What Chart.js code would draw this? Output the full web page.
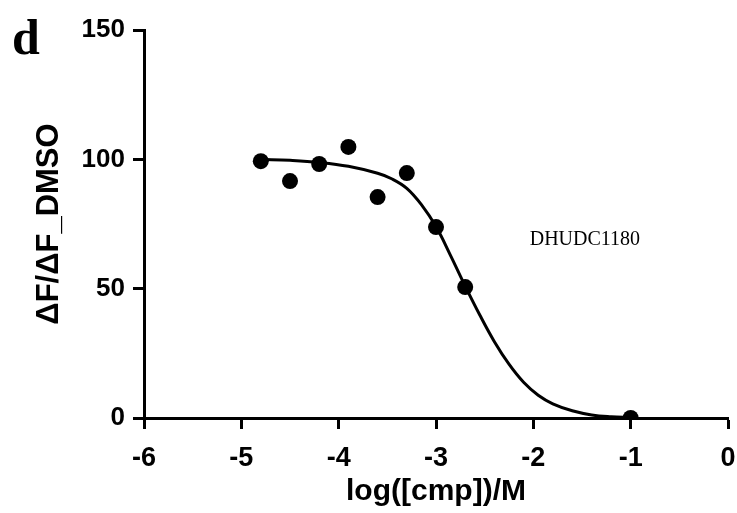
<!DOCTYPE html>
<html><head><meta charset="utf-8">
<script src="https://cdn.jsdelivr.net/npm/chart.js@4.4.1/dist/chart.umd.min.js"></script>
<style>html,body{margin:0;padding:0;background:#fff;}#wrap{width:737px;height:513px;}</style>
</head><body><div id="wrap"><canvas id="c" width="737" height="513"></canvas></div>
<script>
const pointX = [-4.8, -4.5, -4.2, -3.9, -3.6, -3.3, -3.0, -2.7, -1.0];
const pointY = [99.3, 91.6, 98.2, 104.8, 85.4, 94.7, 73.8, 50.6, 0];
const curveX = [-4.8, -4.5, -4.2, -3.9, -3.6, -3.45, -3.3, -3.15, -3.0, -2.85, -2.7, -2.55, -2.4, -2.25, -2.1, -1.95, -1.8, -1.6, -1.4, -1.2, -1.0];
const curveY = [100, 99.6, 98.8, 97.3, 94.6, 92.4, 88.8, 82.5, 74, 62.8, 51, 39.8, 29.5, 20.8, 13.8, 8.8, 5.5, 2.8, 1.2, 0.5, 0.2];
const xTicks = [-6, -5, -4, -3, -2, -1, 0];
const yTicks = [0, 50, 100, 150];
const panelLabel = 'd';
const seriesLabel = 'DHUDC1180';
const xTitle = 'log([cmp])/M';
const yTitle = 'ΔF/ΔF_DMSO';

const textPlugin = {
  id: 'texts',
  afterDraw(chart) {
    const ctx = chart.ctx;
    ctx.save();
    ctx.fillStyle = '#000';
    ctx.font = 'bold 50px "Liberation Serif"';
    ctx.textAlign = 'left';
    ctx.textBaseline = 'alphabetic';
    ctx.fillText(panelLabel, 12, 54);
    ctx.font = '20px "Liberation Serif"';
    const xs = chart.scales.x, ys = chart.scales.y;
    ctx.textAlign = 'center';
    ctx.textBaseline = 'middle';
    ctx.fillText(seriesLabel, xs.getPixelForValue(-1.47), ys.getPixelForValue(68.8));
    ctx.restore();
  }
};

new Chart(document.getElementById('c'), {
  type: 'scatter',
  data: {
    datasets: [
      {
        data: curveX.map((x, i) => ({x, y: curveY[i]})),
        showLine: true, borderColor: '#000', borderWidth: 3, pointRadius: 0,
        tension: 0.4, fill: false
      },
      {
        data: pointX.map((x, i) => ({x, y: pointY[i]})),
        showLine: false, pointRadius: 8, pointBackgroundColor: '#000', pointBorderColor: '#000', pointBorderWidth: 0
      }
    ]
  },
  options: {
    responsive: false, animation: false,
    layout: {padding: {left: 0, right: 9, top: 30, bottom: 0}},
    plugins: {legend: {display: false}, tooltip: {enabled: false}},
    scales: {
      x: {
        type: 'linear', min: -6, max: 0,
        afterBuildTicks: (s) => { s.ticks = xTicks.map(v => ({value: v})); },
        afterFit: (s) => { s.height = 95; s.paddingLeft = 0; s.paddingRight = 0; },
        grid: {drawOnChartArea: false, drawTicks: true, tickLength: 11, tickWidth: 3, tickColor: '#000'},
        border: {display: true, color: '#000', width: 3},
        ticks: {color: '#000', font: {family: '"Liberation Sans"', weight: 'bold', size: 27}, padding: 13, maxRotation: 0},
        title: {display: true, text: xTitle, color: '#000', font: {family: '"Liberation Sans"', weight: 'bold', size: 30}, padding: {top: 0, bottom: 3}}
      },
      y: {
        type: 'linear', min: 0, max: 150,
        afterBuildTicks: (s) => { s.ticks = yTicks.map(v => ({value: v})); },
        afterFit: (s) => { s.width = 144; s.paddingTop = 0; s.paddingBottom = 0; },
        grid: {drawOnChartArea: false, drawTicks: true, tickLength: 11, tickWidth: 3, tickColor: '#000'},
        border: {display: true, color: '#000', width: 3},
        ticks: {color: '#000', font: {family: '"Liberation Sans"', weight: 'bold', size: 26}, padding: 8},
        title: {display: true, text: yTitle, color: '#000', font: {family: '"Liberation Sans"', weight: 'bold', size: 31}, padding: {top: 31, bottom: 0}}
      }
    }
  },
  plugins: [textPlugin]
});
</script></body></html>
